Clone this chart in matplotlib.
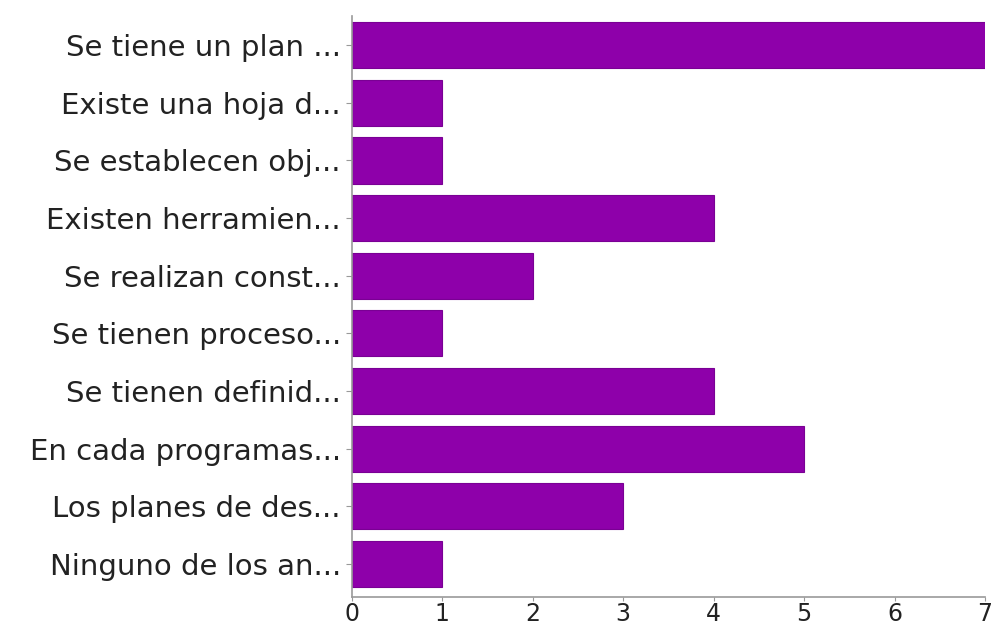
import matplotlib.pyplot as plt

# respuestas (de arriba hacia abajo)
labels = ["Se tiene un plan ...", "Existe una hoja d...", "Se establecen obj...",
          "Existen herramien...", "Se realizan const...", "Se tienen proceso...",
          "Se tienen definid...", "En cada programas...", "Los planes de des...",
          "Ninguno de los an..."]
counts = [7, 1, 1, 4, 2, 1, 4, 5, 3, 1]
xticks = [0, 1, 2, 3, 4, 5, 6, 7]

plt.rcParams['font.family'] = ['DejaVu Sans']

fig = plt.figure(figsize=(9.94, 6.27), dpi=100)
ax = fig.add_axes([0.354, 0.048, 0.637, 0.926])

pos = list(range(len(labels)))
ax.barh(pos, counts, height=0.8, color='#8e00aa', edgecolor='#7a0094', linewidth=0.8)
ax.set_ylim(len(labels) - 0.43, -0.5)
ax.set_xlim(0, 7)
ax.set_yticks(pos)
ax.set_yticklabels(labels, fontsize=21, color='#222222')
ax.set_xticks(xticks)
ax.set_xticklabels([str(t) for t in xticks], fontsize=17, color='#333333')

for s in ['top', 'right']:
    ax.spines[s].set_visible(False)
for s in ['left', 'bottom']:
    ax.spines[s].set_color('#999999')
    ax.spines[s].set_linewidth(1.2)
ax.tick_params(axis='both', colors='#999999', length=4, pad=4, labelcolor='#222222')
ax.tick_params(axis='x', length=3, pad=1)

plt.savefig('out.png', dpi=100)
